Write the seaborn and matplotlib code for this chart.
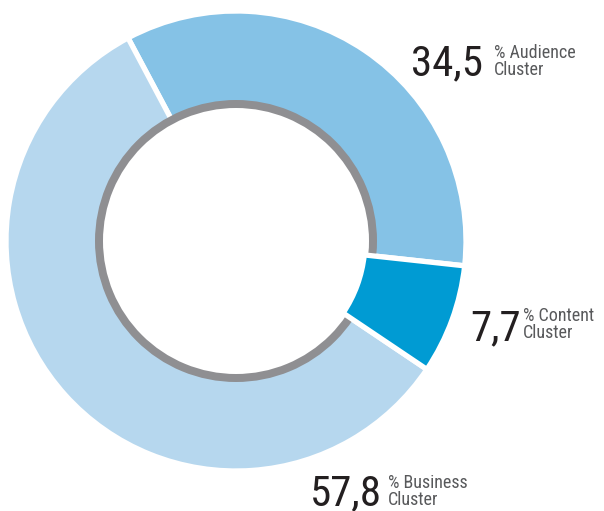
import matplotlib
matplotlib.use("Agg")
import matplotlib.pyplot as plt
import seaborn as sns

sns.set_theme(style="white")
plt.rcParams['font.family'] = ['Roboto Condensed', 'DejaVu Sans']

categories = ["Audience", "Content", "Business"]
values = [34.5, 7.7, 57.8]
big_labels = ["34,5", "7,7", "57,8"]
small_labels = ["% Audience\nCluster", "% Content\nCluster", "% Business\nCluster"]
colors = ["#85C2E6", "#009BD3", "#B6D7EE"]

W, H = 604, 511
fig = plt.figure(figsize=(W / 100, H / 100), dpi=100)
ax = fig.add_axes([0, 0, 1, 1])

cx, cy = 236, H - 241
R = 230
ring_in, ring_out = 133, 141

wedges, _ = ax.pie(values, radius=R, center=(cx, cy), colors=colors,
                   startangle=118, counterclock=False,
                   wedgeprops=dict(width=R - ring_in, edgecolor="white", linewidth=3.8))
for w in wedges:
    w.set_zorder(1)

# gray inner ring (continuous under the light slices)
ring, _ = ax.pie([1], radius=ring_out, center=(cx, cy), colors=["#8F8F92"],
                 wedgeprops=dict(width=ring_out - ring_in, edgecolor="none"))
ring[0].set_zorder(2)

# content slice reaches further inward and covers the ring
wedges[1].set_width(R - 129)
wedges[1].set_zorder(3)

# labels: (x_right_big, baseline_big, x_small, baseline_small)
pos = [(483, 75, 494, 75), (521, 340, 523, 338), (382, 505, 388, 505)]
for (xb, yb, xs, ys), bl, sl in zip(pos, big_labels, small_labels):
    ax.text(xb, H - yb, bl, fontsize=31, color="#231F20", ha="right", va="baseline")
    ax.text(xs, H - ys, sl, fontsize=13, color="#58595B", ha="left", va="baseline",
            linespacing=0.92)

ax.set_xlim(0, W)
ax.set_ylim(0, H)
ax.set_aspect("equal")
ax.set_axis_off()
fig.savefig("out.png", dpi=100)
